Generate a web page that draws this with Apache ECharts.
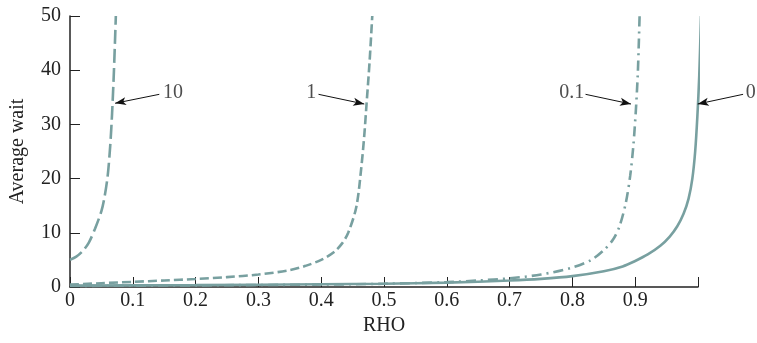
<!DOCTYPE html>
<html><head><meta charset="utf-8">
<script src="https://cdn.jsdelivr.net/npm/echarts@6/dist/echarts.min.js"></script>
<style>html,body{margin:0;padding:0;background:#fff}#c{width:757px;height:343px}</style>
</head><body><div id="c"></div>
<script>
// Data
const curveNames = ['10', '1', '0.1', '0'];
const rho10  = [0, 0.01, 0.02, 0.03, 0.04, 0.05, 0.055, 0.06, 0.064, 0.067, 0.07, 0.073];
const wait10 = [5, 5.6, 6.6, 8.2, 10.8, 14, 16.6, 20.5, 26, 32, 40, 50];
const rho1  = [0, 0.05, 0.1, 0.15, 0.2, 0.25, 0.3, 0.35, 0.375, 0.4, 0.42, 0.433, 0.443, 0.456, 0.464, 0.4686, 0.4723, 0.477, 0.4813];
const wait1 = [0.45, 0.7, 0.95, 1.2, 1.47, 1.82, 2.3, 3.1, 3.9, 5.0, 6.4, 8.0, 10.0, 14.8, 22.2, 28, 33.9, 41.5, 50];
const rho01  = [0, 0.2, 0.4, 0.5, 0.6, 0.65, 0.7, 0.75, 0.8, 0.83, 0.85, 0.865, 0.875, 0.885, 0.892, 0.897, 0.901, 0.904, 0.9055, 0.907];
const wait01 = [0.2, 0.3, 0.45, 0.6, 0.9, 1.2, 1.6, 2.3, 3.6, 5.0, 6.8, 8.8, 11.2, 15.5, 20.5, 26, 32.5, 39, 44, 50];
const rho0  = [0, 0.2, 0.4, 0.5, 0.6, 0.7, 0.75, 0.8, 0.85, 0.88, 0.9, 0.92, 0.94, 0.955, 0.967, 0.977, 0.985, 0.991, 0.9955, 0.999, 1.002, 1.0048];
const wait0 = [0.25, 0.35, 0.5, 0.6, 0.8, 1.2, 1.5, 2.0, 2.9, 3.8, 4.8, 6.0, 7.6, 9.3, 11.2, 13.5, 16.3, 20, 25, 31.5, 39, 50];
const xTicks = [0, 0.1, 0.2, 0.3, 0.4, 0.5, 0.6, 0.7, 0.8, 0.9];
// Annotation arrows (data coordinates): tail -> tip, and label anchor
const arrowTail = [[0.1422, 35.55], [0.3957, 35.55], [0.8209, 35.55], [1.0718, 35.55]];
const arrowTip  = [[0.0718, 33.9], [0.4686, 33.76], [0.8933, 33.76], [0.9995, 33.76]];
const labelAt   = [[0.148, 35.9], [0.392, 35.9], [0.819, 35.9], [1.076, 35.9]];
const labelSide = ['right', 'left', 'left', 'right'];

const color = '#78a0a0';
const font = 'Liberation Serif';
const fs = 20;
const zip = (a, b) => a.map((v, i) => [v, b[i]]);
const dashes = [[14, 5], [9, 4], [10, 5, 2, 5], 'solid'];
const xs = [rho10, rho1, rho01, rho0], ys = [wait10, wait1, wait01, wait0];

const series = curveNames.map((n, i) => ({
  name: n, type: 'line', data: zip(xs[i], ys[i]), showSymbol: false, symbol: 'none',
  smooth: 0.3, clip: false, silent: true,
  lineStyle: {color: color, width: 2.6, type: dashes[i]}
}));

series.push({
  type: 'scatter', clip: false, silent: true, symbolSize: 0,
  data: curveNames.map((n, i) => ({name: n, value: labelAt[i],
    label: {show: true, position: labelSide[i], distance: 0, formatter: '{b}',
      fontFamily: font, fontSize: fs, color: '#222'}}))
});

const chart = echarts.init(document.getElementById('c'));
chart.setOption({
  animation: false,
  grid: {left: 67, right: 59, top: 16, bottom: 56, containLabel: false},
  xAxis: {
    type: 'value', min: 0, max: 1, interval: 0.1,
    name: 'RHO', nameLocation: 'middle', nameGap: 27,
    nameTextStyle: {fontFamily: font, fontSize: fs, color: '#222'},
    axisLine: {show: true, onZero: false, lineStyle: {color: '#222', width: 1.5}},
    axisTick: {show: true, inside: true, length: 10, lineStyle: {color: '#222', width: 1}},
    axisLabel: {margin: 4, fontFamily: font, fontSize: fs, color: '#222',
      formatter: v => (xTicks.some(t => Math.abs(t - v) < 1e-6) ? String(Math.round(v * 10) / 10) : '')},
    splitLine: {show: false}
  },
  yAxis: {
    type: 'value', min: 0, max: 50, interval: 10,
    name: 'Average wait', nameLocation: 'middle', nameGap: 42,
    nameTextStyle: {fontFamily: font, fontSize: fs, color: '#222'},
    axisLine: {show: true, lineStyle: {color: '#222', width: 1.5}},
    axisTick: {show: true, inside: true, length: 10, lineStyle: {color: '#222', width: 1}},
    axisLabel: {margin: 9, fontFamily: font, fontSize: fs, color: '#222'},
    splitLine: {show: false}
  },
  series: series
});

// Arrows: positioned through the library's own scale conversion
const px = c => chart.convertToPixel({gridIndex: 0}, c);
const arrowData = arrowTail.map((t, i) => {
  const a = px(t), b = px(arrowTip[i]);
  return [{x: a[0], y: a[1]}, {x: b[0], y: b[1]}];
});
chart.setOption({
  series: [{}, {}, {}, {}, {
    markLine: {
      silent: true, symbol: ['none', 'arrow'], symbolSize: [6, 11],
      label: {show: false},
      lineStyle: {color: '#111', width: 1, type: 'solid'},
      data: arrowData
    }
  }]
});
</script></body></html>
